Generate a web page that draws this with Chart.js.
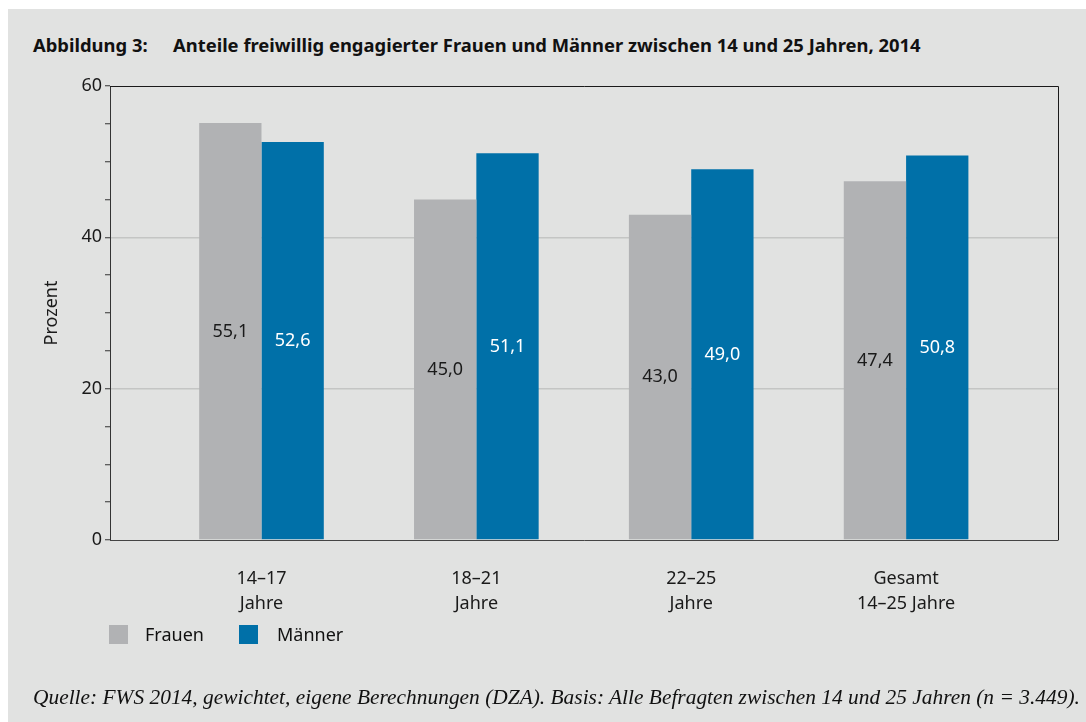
<!DOCTYPE html>
<html><head><meta charset="utf-8">
<script src="https://cdn.jsdelivr.net/npm/chart.js@4.4.1/dist/chart.umd.min.js"></script>
<style>
html,body{margin:0;padding:0;background:#fff;}
#panel{position:absolute;left:8px;top:9px;width:1078px;height:713px;background:#e1e2e1;}
#wrap{position:absolute;left:0;top:0;width:1086px;height:722px;}
#title{position:absolute;left:33px;top:32px;font:bold 18.4px "Noto Sans",sans-serif;color:#111;white-space:nowrap;}
#title .t2{position:absolute;left:140px;top:0;}
#legend{position:absolute;left:109px;top:624px;font:18px "Noto Sans",sans-serif;color:#111;}
#legend span.box{position:absolute;width:19px;height:19px;top:1px;}
#legend span.lab{position:absolute;top:-2px;white-space:nowrap;}
#source{position:absolute;left:33px;top:685px;font:italic 21px "Liberation Serif",serif;color:#111;white-space:nowrap;}
</style></head>
<body>
<div id="panel"></div>
<div id="title"><span>Abbildung 3:</span><span class="t2">Anteile freiwillig engagierter Frauen und Männer zwischen 14 und 25 Jahren, 2014</span></div>
<div id="wrap"><canvas id="c" width="1086" height="722"></canvas></div>
<div id="legend">
  <span class="box" style="left:0;background:#b1b2b4"></span><span class="lab" style="left:36px">Frauen</span>
  <span class="box" style="left:130px;background:#0070a8"></span><span class="lab" style="left:168px">Männer</span>
</div>
<div id="source">Quelle: FWS 2014, gewichtet, eigene Berechnungen (DZA). Basis: Alle Befragten zwischen 14 und 25 Jahren (n = 3.449).</div>
<script>
const categories = [["14–17","Jahre"],["18–21","Jahre"],["22–25","Jahre"],["Gesamt","14–25 Jahre"]];
const frauen = [55.1, 45.0, 43.0, 47.4];
const maenner = [52.6, 51.1, 49.0, 50.8];
const yTicks = [0, 20, 40, 60];

// fit source line width
(function(){
  const s = document.getElementById('source');
  const w = s.getBoundingClientRect().width;
  const target = 1047;
  s.style.fontSize = (21 * target / w).toFixed(2) + 'px';
})();

const fmt = v => v.toFixed(1).replace('.', ',');

const valueLabels = {
  id: 'valueLabels',
  afterDatasetsDraw(chart) {
    const ctx = chart.ctx;
    ctx.save();
    ctx.font = '18px "Noto Sans", sans-serif';
    ctx.textAlign = 'center';
    ctx.textBaseline = 'middle';
    chart.data.datasets.forEach((ds, di) => {
      const meta = chart.getDatasetMeta(di);
      meta.data.forEach((bar, i) => {
        const v = ds.data[i].y;
        const yMid = chart.scales.y.getPixelForValue(v / 2);
        ctx.fillStyle = di === 0 ? '#1a1a1a' : '#ffffff';
        ctx.fillText(fmt(v), bar.x, yMid);
      });
    });
    ctx.restore();
  }
};
const frame = {
  id: 'frame',
  afterDraw(chart) {
    const a = chart.chartArea, ctx = chart.ctx;
    ctx.save();
    ctx.strokeStyle = '#1a1a1a';
    ctx.lineWidth = 1;
    ctx.beginPath();
    ctx.moveTo(a.left, a.top + 0.5); ctx.lineTo(a.right + 0.5, a.top + 0.5);
    ctx.lineTo(a.right + 0.5, a.bottom);
    ctx.stroke();
    ctx.strokeStyle = '#444';
    ctx.beginPath();
    ctx.moveTo(a.left, a.bottom + 0.5); ctx.lineTo(a.right + 0.5, a.bottom + 0.5);
    ctx.stroke();
    ctx.restore();
  }
};

new Chart(document.getElementById('c'), {
  type: 'bar',
  data: {
    datasets: [
      { label: 'Frauen', data: frauen.map((v, i) => ({x: i, y: v})), backgroundColor: '#b1b2b4', categoryPercentage: 0.58, barPercentage: 1.0 },
      { label: 'Männer', data: maenner.map((v, i) => ({x: i, y: v})), backgroundColor: '#0070a8', categoryPercentage: 0.58, barPercentage: 1.0 }
    ]
  },
  options: {
    responsive: false,
    animation: false,
    layout: { padding: { left: 0, right: 28, top: 86, bottom: 0 } },
    plugins: { legend: { display: false }, tooltip: { enabled: false } },
    scales: {
      x: {
        type: 'linear',
        offset: false,
        min: -0.705, max: 3.707,
        afterFit(s) { s.height = 182; },
        afterBuildTicks(s) { s.ticks = categories.map((c, i) => ({value: i})); },
        grid: { display: false, drawTicks: false },
        border: { display: false },
        ticks: {
          autoSkip: false, maxRotation: 0, padding: 26,
          color: '#1a1a1a',
          font: { family: '"Noto Sans", sans-serif', size: 18, lineHeight: 1.4 },
          callback: (v) => categories[v]
        }
      },
      y: {
        min: 0, max: 60,
        afterFit(s) { s.width = 110; },
        afterBuildTicks(s) { const t = []; for (let v = 0; v <= 60; v += 5) t.push({value: v}); s.ticks = t; },
        border: { display: true, color: '#333', width: 1 },
        grid: {
          color: c => (c.tick && (c.tick.value === 20 || c.tick.value === 40)) ? '#c4c5c4' : 'rgba(0,0,0,0)',
          lineWidth: 1.5,
          tickColor: '#333', tickLength: 5, tickWidth: 1
        },
        ticks: {
          color: '#1a1a1a', padding: 3,
          font: { family: '"Noto Sans", sans-serif', size: 18 },
          callback: v => yTicks.includes(v) ? String(v) : ''
        },
        title: {
          display: true, text: 'Prozent', color: '#1a1a1a',
          font: { family: '"Noto Sans", sans-serif', size: 18 },
          padding: { top: 41, bottom: 0 }
        }
      }
    }
  },
  plugins: [valueLabels, frame]
});
</script>
</body></html>
